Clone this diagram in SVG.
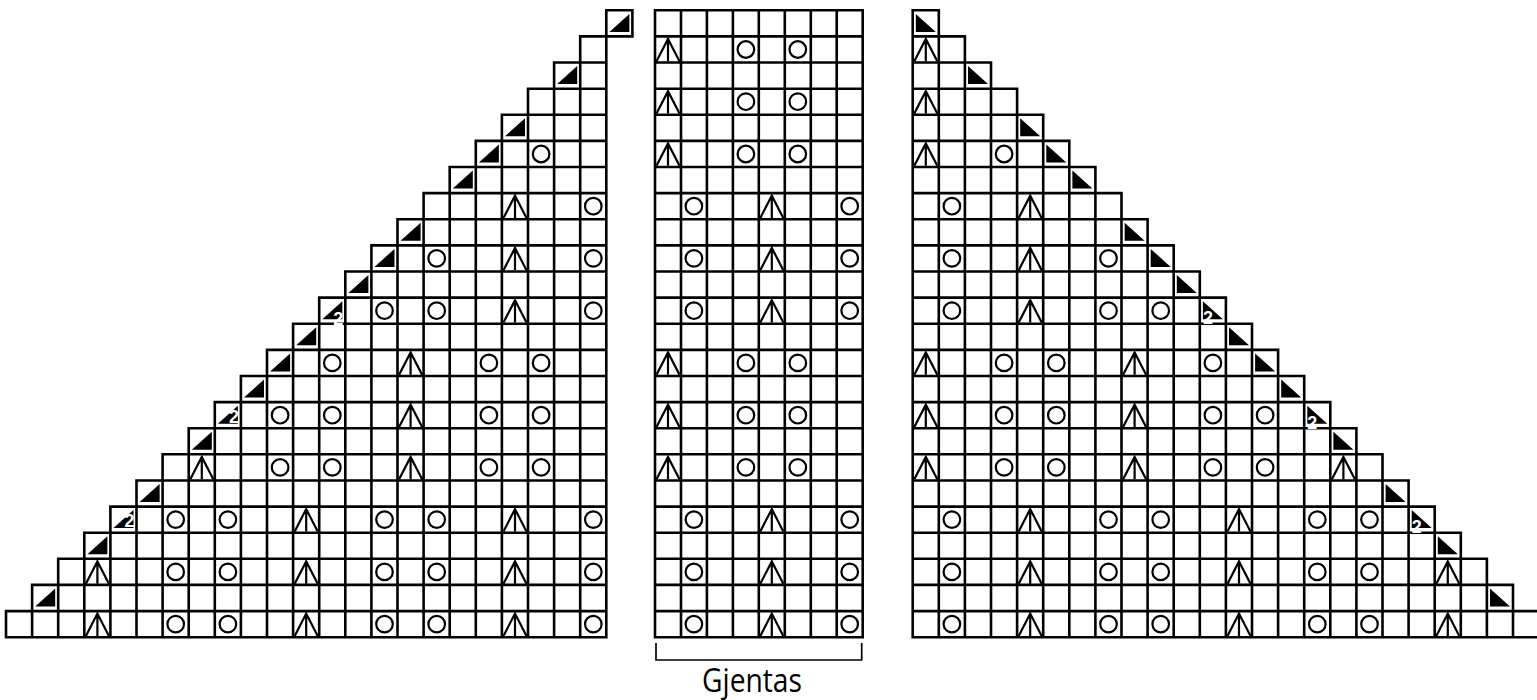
<svg xmlns="http://www.w3.org/2000/svg" xmlns:xlink="http://www.w3.org/1999/xlink" width="1537" height="700" viewBox="0 0 1537 700">
<style>
.grid{fill:none;stroke:#000;stroke-width:2.6;stroke-linecap:square}
.yo{fill:none;stroke:#000;stroke-width:2.2}
.sk{fill:none;stroke:#000;stroke-width:2.2;stroke-linejoin:miter}
.dec{fill:#000;stroke:none}
.num{font-family:"Liberation Sans",Arial,sans-serif;font-weight:bold;font-size:18px;fill:#fff}
.lbl{font-family:"Open Sans","Noto Sans","Liberation Sans",sans-serif;font-size:32px;fill:#000}
.brk{fill:none;stroke:#000;stroke-width:1.7}
</style>
<defs>
<circle id="o" r="8.3" class="yo"/>
<path id="s" class="sk" d="M-11.5,11.8L0,-10.5L11.5,11.8M0,-10.5V11.8"/>
<polygon id="dl" class="dec" points="-10,8.5 10,8.5 10,-9.5"/>
<polygon id="dr" class="dec" points="-10,-9.5 -10,8.5 10,8.5"/>
</defs>
<rect width="1537" height="700" fill="#fff"/>

<g id="left-chart">
<path class="grid" d="M606.3,10.3H632.4M580.2,36.4H632.4M554.1,62.5H606.3M528,88.7H606.3M501.9,114.8H606.3M475.8,140.9H606.3M449.7,167H606.3M423.6,193.1H606.3M397.5,219.3H606.3M371.4,245.4H606.3M345.3,271.5H606.3M319.2,297.6H606.3M293.1,323.7H606.3M267,349.9H606.3M240.9,376H606.3M214.8,402.1H606.3M188.7,428.2H606.3M162.6,454.3H606.3M136.5,480.5H606.3M110.4,506.6H606.3M84.3,532.7H606.3M58.2,558.8H606.3M32.1,584.9H606.3M6,611.1H606.3M6,637.2H606.3
M6,611.1V637.2M32.1,584.9V637.2M58.2,558.8V637.2M84.3,532.7V637.2M110.4,506.6V637.2M136.5,480.5V637.2M162.6,454.3V637.2M188.7,428.2V637.2M214.8,402.1V637.2M240.9,376V637.2M267,349.9V637.2M293.1,323.7V637.2M319.2,297.6V637.2M345.3,271.5V637.2M371.4,245.4V637.2M397.5,219.3V637.2M423.6,193.1V637.2M449.7,167V637.2M475.8,140.9V637.2M501.9,114.8V637.2M528,88.7V637.2M554.1,62.5V637.2M580.2,36.4V637.2M606.3,10.3V637.2M632.4,10.3V36.4"/>
<g id="left-decreases">
<use href="#dl" x="619.4" y="23.4"/><use href="#dl" x="567.2" y="75.6"/><use href="#dl" x="515" y="127.8"/><use href="#dl" x="488.9" y="154"/><use href="#dl" x="462.8" y="180.1"/><use href="#dl" x="410.6" y="232.3"/><use href="#dl" x="384.5" y="258.4"/><use href="#dl" x="358.4" y="284.6"/><use href="#dl" x="332.3" y="310.7"/><use href="#dl" x="306.2" y="336.8"/><use href="#dl" x="280.1" y="362.9"/><use href="#dl" x="254" y="389"/><use href="#dl" x="227.9" y="415.2"/><use href="#dl" x="201.8" y="441.3"/><use href="#dl" x="149.6" y="493.5"/><use href="#dl" x="123.5" y="519.6"/><use href="#dl" x="97.4" y="545.8"/><use href="#dl" x="45.2" y="598"/>
</g>
<g id="left-sk">
<use href="#s" x="515" y="206.2"/><use href="#s" x="515" y="258.4"/><use href="#s" x="515" y="310.7"/><use href="#s" x="410.6" y="362.9"/><use href="#s" x="410.6" y="415.2"/><use href="#s" x="201.8" y="467.4"/><use href="#s" x="410.6" y="467.4"/><use href="#s" x="306.2" y="519.6"/><use href="#s" x="515" y="519.6"/><use href="#s" x="97.4" y="571.9"/><use href="#s" x="306.2" y="571.9"/><use href="#s" x="515" y="571.9"/><use href="#s" x="97.4" y="624.1"/><use href="#s" x="306.2" y="624.1"/><use href="#s" x="515" y="624.1"/>
</g>
<g id="left-yo">
<use href="#o" x="541.1" y="154"/><use href="#o" x="593.3" y="206.2"/>
<use href="#o" x="436.7" y="258.4"/><use href="#o" x="593.3" y="258.4"/>
<use href="#o" x="384.5" y="310.7"/><use href="#o" x="436.7" y="310.7"/><use href="#o" x="593.3" y="310.7"/>
<use href="#o" x="332.3" y="362.9"/><use href="#o" x="488.9" y="362.9"/><use href="#o" x="541.1" y="362.9"/>
<use href="#o" x="280.1" y="415.2"/><use href="#o" x="332.3" y="415.2"/><use href="#o" x="488.9" y="415.2"/><use href="#o" x="541.1" y="415.2"/>
<use href="#o" x="280.1" y="467.4"/><use href="#o" x="332.3" y="467.4"/><use href="#o" x="488.9" y="467.4"/><use href="#o" x="541.1" y="467.4"/>
<use href="#o" x="175.7" y="519.6"/><use href="#o" x="227.9" y="519.6"/><use href="#o" x="384.5" y="519.6"/><use href="#o" x="436.7" y="519.6"/><use href="#o" x="593.3" y="519.6"/>
<use href="#o" x="175.7" y="571.9"/><use href="#o" x="227.9" y="571.9"/><use href="#o" x="384.5" y="571.9"/><use href="#o" x="436.7" y="571.9"/><use href="#o" x="593.3" y="571.9"/>
<use href="#o" x="175.7" y="624.1"/><use href="#o" x="227.9" y="624.1"/><use href="#o" x="384.5" y="624.1"/><use href="#o" x="436.7" y="624.1"/><use href="#o" x="593.3" y="624.1"/>
</g>
<text class="num" x="333.3" y="325">2</text>
<text class="num" x="229" y="423">2</text>
<text class="num" x="124.5" y="527">2</text>
</g>

<g id="repeat-chart">
<path class="grid" d="M655,10.3H862.7V637.2H655Z
M681,10.3V637.2M706.9,10.3V637.2M732.9,10.3V637.2M758.8,10.3V637.2M784.8,10.3V637.2M810.8,10.3V637.2M836.7,10.3V637.2
M655,36.4H862.7M655,62.5H862.7M655,88.7H862.7M655,114.8H862.7M655,140.9H862.7M655,167H862.7M655,193.1H862.7M655,219.3H862.7M655,245.4H862.7M655,271.5H862.7M655,297.6H862.7M655,323.7H862.7M655,349.9H862.7M655,376H862.7M655,402.1H862.7M655,428.2H862.7M655,454.3H862.7M655,480.5H862.7M655,506.6H862.7M655,532.7H862.7M655,558.8H862.7M655,584.9H862.7M655,611.1H862.7"/>
<use href="#s" x="668" y="49.5"/><use href="#o" x="745.9" y="49.5"/><use href="#o" x="797.8" y="49.5"/>
<use href="#s" x="668" y="101.7"/><use href="#o" x="745.9" y="101.7"/><use href="#o" x="797.8" y="101.7"/>
<use href="#s" x="668" y="154"/><use href="#o" x="745.9" y="154"/><use href="#o" x="797.8" y="154"/>
<use href="#o" x="693.9" y="206.2"/><use href="#s" x="771.8" y="206.2"/><use href="#o" x="849.7" y="206.2"/>
<use href="#o" x="693.9" y="258.4"/><use href="#s" x="771.8" y="258.4"/><use href="#o" x="849.7" y="258.4"/>
<use href="#o" x="693.9" y="310.7"/><use href="#s" x="771.8" y="310.7"/><use href="#o" x="849.7" y="310.7"/>
<use href="#s" x="668" y="362.9"/><use href="#o" x="745.9" y="362.9"/><use href="#o" x="797.8" y="362.9"/>
<use href="#s" x="668" y="415.2"/><use href="#o" x="745.9" y="415.2"/><use href="#o" x="797.8" y="415.2"/>
<use href="#s" x="668" y="467.4"/><use href="#o" x="745.9" y="467.4"/><use href="#o" x="797.8" y="467.4"/>
<use href="#o" x="693.9" y="519.6"/><use href="#s" x="771.8" y="519.6"/><use href="#o" x="849.7" y="519.6"/>
<use href="#o" x="693.9" y="571.9"/><use href="#s" x="771.8" y="571.9"/><use href="#o" x="849.7" y="571.9"/>
<use href="#o" x="693.9" y="624.1"/><use href="#s" x="771.8" y="624.1"/><use href="#o" x="849.7" y="624.1"/>
</g>

<g id="right-chart">
<path class="grid" d="M912.7,10.3H938.8M912.7,36.4H964.9M912.7,62.5H991M912.7,88.7H1017.1M912.7,114.8H1043.2M912.7,140.9H1069.3M912.7,167H1095.4M912.7,193.1H1121.5M912.7,219.3H1147.6M912.7,245.4H1173.7M912.7,271.5H1199.8M912.7,297.6H1225.9M912.7,323.7H1252M912.7,349.9H1278.1M912.7,376H1304.2M912.7,402.1H1330.3M912.7,428.2H1356.4M912.7,454.3H1382.5M912.7,480.5H1408.6M912.7,506.6H1434.7M912.7,532.7H1460.8M912.7,558.8H1486.9M912.7,584.9H1513M912.7,611.1H1539.1M912.7,637.2H1539.1
M912.7,10.3V637.2M938.8,10.3V637.2M964.9,36.4V637.2M991,62.5V637.2M1017.1,88.7V637.2M1043.2,114.8V637.2M1069.3,140.9V637.2M1095.4,167V637.2M1121.5,193.1V637.2M1147.6,219.3V637.2M1173.7,245.4V637.2M1199.8,271.5V637.2M1225.9,297.6V637.2M1252,323.7V637.2M1278.1,349.9V637.2M1304.2,376V637.2M1330.3,402.1V637.2M1356.4,428.2V637.2M1382.5,454.3V637.2M1408.6,480.5V637.2M1434.7,506.6V637.2M1460.8,532.7V637.2M1486.9,558.8V637.2M1513,584.9V637.2"/>
<g id="right-decreases">
<use href="#dr" x="925.8" y="23.4"/><use href="#dr" x="978" y="75.6"/><use href="#dr" x="1030.2" y="127.8"/><use href="#dr" x="1056.3" y="154"/><use href="#dr" x="1082.4" y="180.1"/><use href="#dr" x="1134.6" y="232.3"/><use href="#dr" x="1160.7" y="258.4"/><use href="#dr" x="1186.8" y="284.6"/><use href="#dr" x="1212.9" y="310.7"/><use href="#dr" x="1239" y="336.8"/><use href="#dr" x="1265.1" y="362.9"/><use href="#dr" x="1291.2" y="389"/><use href="#dr" x="1317.3" y="415.2"/><use href="#dr" x="1343.4" y="441.3"/><use href="#dr" x="1395.6" y="493.5"/><use href="#dr" x="1421.7" y="519.6"/><use href="#dr" x="1447.8" y="545.8"/><use href="#dr" x="1500" y="598"/>
</g>
<g id="right-sk">
<use href="#s" x="925.8" y="49.5"/><use href="#s" x="925.8" y="101.7"/><use href="#s" x="925.8" y="154"/>
<use href="#s" x="1030.2" y="206.2"/><use href="#s" x="1030.2" y="258.4"/><use href="#s" x="1030.2" y="310.7"/>
<use href="#s" x="925.8" y="362.9"/><use href="#s" x="1134.6" y="362.9"/>
<use href="#s" x="925.8" y="415.2"/><use href="#s" x="1134.6" y="415.2"/>
<use href="#s" x="925.8" y="467.4"/><use href="#s" x="1134.6" y="467.4"/><use href="#s" x="1343.4" y="467.4"/>
<use href="#s" x="1030.2" y="519.6"/><use href="#s" x="1239" y="519.6"/>
<use href="#s" x="1030.2" y="571.9"/><use href="#s" x="1239" y="571.9"/><use href="#s" x="1447.8" y="571.9"/>
<use href="#s" x="1030.2" y="624.1"/><use href="#s" x="1239" y="624.1"/><use href="#s" x="1447.8" y="624.1"/>
</g>
<g id="right-yo">
<use href="#o" x="1004.1" y="154"/><use href="#o" x="951.9" y="206.2"/>
<use href="#o" x="951.9" y="258.4"/><use href="#o" x="1108.5" y="258.4"/>
<use href="#o" x="951.9" y="310.7"/><use href="#o" x="1108.5" y="310.7"/><use href="#o" x="1160.7" y="310.7"/>
<use href="#o" x="1004.1" y="362.9"/><use href="#o" x="1056.3" y="362.9"/><use href="#o" x="1212.9" y="362.9"/>
<use href="#o" x="1004.1" y="415.2"/><use href="#o" x="1056.3" y="415.2"/><use href="#o" x="1212.9" y="415.2"/><use href="#o" x="1265.1" y="415.2"/>
<use href="#o" x="1004.1" y="467.4"/><use href="#o" x="1056.3" y="467.4"/><use href="#o" x="1212.9" y="467.4"/><use href="#o" x="1265.1" y="467.4"/>
<use href="#o" x="951.9" y="519.6"/><use href="#o" x="1108.5" y="519.6"/><use href="#o" x="1160.7" y="519.6"/><use href="#o" x="1317.3" y="519.6"/><use href="#o" x="1369.5" y="519.6"/>
<use href="#o" x="951.9" y="571.9"/><use href="#o" x="1108.5" y="571.9"/><use href="#o" x="1160.7" y="571.9"/><use href="#o" x="1317.3" y="571.9"/><use href="#o" x="1369.5" y="571.9"/>
<use href="#o" x="951.9" y="624.1"/><use href="#o" x="1108.5" y="624.1"/><use href="#o" x="1160.7" y="624.1"/><use href="#o" x="1317.3" y="624.1"/><use href="#o" x="1369.5" y="624.1"/>
</g>
<text class="num" x="1202.9" y="324">2</text>
<text class="num" x="1307.3" y="428.5">2</text>
<text class="num" x="1411.7" y="533">2</text>
</g>

<g id="repeat-label">
<path class="brk" d="M656,643V660H861.7V643"/>
<text class="lbl" x="752" y="692" text-anchor="middle" textLength="100" lengthAdjust="spacingAndGlyphs">Gjentas</text>
</g>
</svg>
